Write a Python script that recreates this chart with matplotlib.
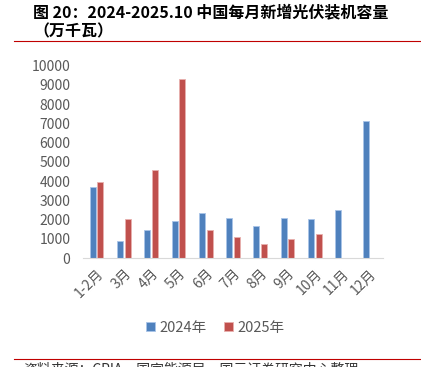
import matplotlib
matplotlib.use("Agg")
import matplotlib.pyplot as plt
import numpy as np

plt.rcParams['font.family'] = ['Noto Sans CJK SC', 'DejaVu Sans']

# Monthly new PV installations (10k kW)
months = ["1-2月", "3月", "4月", "5月", "6月", "7月", "8月", "9月", "10月", "11月", "12月"]
y2024 = [3672, 869, 1437, 1904, 2330, 2100, 1640, 2080, 2030, 2500, 7130]
y2025 = [3947, 2024, 4560, 9292, 1436, 1099, 735, 967, 1260, np.nan, np.nan]
yticks = list(range(0, 10001, 1000))

fig = plt.figure(figsize=(4.21, 3.67), dpi=100)
ax = fig.add_axes([0.197, 0.297, 0.713, 0.524])

x = np.arange(len(months))
w = 0.22
ax.bar(x - 0.14, y2024, w, color="#4F81BD", edgecolor="#A9C4E8", linewidth=0.6, label="2024年")
ax.bar(x + 0.14, y2025, w, color="#C0504D", edgecolor="#E8B0AE", linewidth=0.6, label="2025年")

ax.set_xlim(-0.5, len(months) - 0.5)
ax.set_ylim(0, 10000)
ax.set_yticks(yticks)
ax.set_yticklabels([str(v) for v in yticks], fontsize=10, color="#595959")
ax.set_xticks(x)
ax.set_xticklabels(months, rotation=45, ha="right", va="top", rotation_mode="anchor",
                   fontsize=10, color="#595959")
ax.tick_params(axis="y", length=0, pad=9)
ax.tick_params(axis="x", length=0, pad=6)
for s in ["top", "right", "left"]:
    ax.spines[s].set_visible(False)
ax.spines["bottom"].set_color("#D9D9D9")

leg = fig.legend(loc="center", bbox_to_anchor=(215 / 421, 1 - 328 / 367), ncol=2, frameon=False,
                 fontsize=10.5, handlelength=0.6, handleheight=0.6, handletextpad=0.3,
                 columnspacing=1.2, labelcolor="#595959")

# title block
fig.text(33 / 421, 1 - 12 / 367, "图 20：2024-2025.10 中国每月新增光伏装机容量",
         fontsize=11.5, fontweight="bold", va="center", ha="left")
fig.text(33 / 421, 1 - 31 / 367, "（万千瓦）", fontsize=11.5, fontweight="bold",
         va="center", ha="left")
fig.add_artist(plt.Line2D([14 / 421, 420 / 421], [1 - 41 / 367] * 2, color="#C00000", lw=0.8))
fig.add_artist(plt.Line2D([14 / 421, 420 / 421], [1 - 359 / 367] * 2, color="#C00000", lw=0.8))
fig.text(23 / 421, 1 - 369 / 367, "资料来源：CPIA，国家能源局，国元证券研究中心整理",
         fontsize=10, va="center", ha="left", color="#333333")

fig.savefig("out.png", dpi=100)
